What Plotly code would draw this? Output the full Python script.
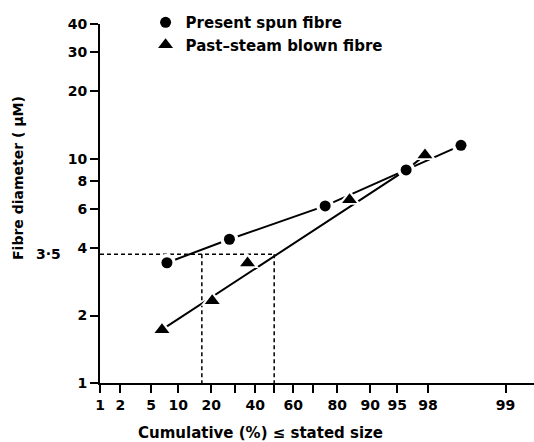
import math
from statistics import NormalDist
import plotly.graph_objects as go

# ---- data ----
present_pct = [7.6, 27.5, 75.2, 96.1, 99.37]
present_diam = [3.44, 4.38, 6.17, 8.93, 11.5]

blown_pct = [6.7, 20.4, 36.1, 84.3, 97.8]
blown_diam = [1.73, 2.33, 3.43, 6.58, 10.4]

blown_fit_pct = [6.7, 96.1, 97.8]
blown_fit_diam = [1.73, 8.93, 10.4]

ref_diam = 3.75          # drawn position of the "3·5" guide line
ref_label = "3·5"
ref_pct = [16.7, 50]

x_tick_pct = [1, 2, 5, 10, 20, 30, 40, 50, 60, 70, 80, 90, 95, 98, 99.9]
x_tick_text = ["1", "2", "5", "10", "20", "", "40", "", "60", "", "80", "90", "95", "98", "99"]
y_tick_vals = [1, 2, 4, 6, 8, 10, 20, 30, 40]
y_tick_text = ["1", "2", "4", "6", "8", "10", "20", "30", "40"]

nd = NormalDist()
def probit(p):
    return nd.inv_cdf(p / 100.0)

FONT = "DejaVu Sans"
W = "bold"
fig = go.Figure()

# guide dashed lines (inside plot)
fig.add_trace(go.Scatter(x=[probit(1), probit(ref_pct[1])], y=[ref_diam, ref_diam],
                         mode="lines", line=dict(color="black", width=1.5, dash="4px,3px"),
                         showlegend=False, hoverinfo="skip"))
for p in ref_pct:
    fig.add_trace(go.Scatter(x=[probit(p), probit(p)], y=[ref_diam, 1],
                             mode="lines", line=dict(color="black", width=1.5, dash="4px,3px"),
                             showlegend=False, hoverinfo="skip"))

# fitted lines
fig.add_trace(go.Scatter(x=[probit(p) for p in present_pct], y=present_diam, mode="lines",
                         line=dict(color="black", width=2), showlegend=False, hoverinfo="skip"))
fig.add_trace(go.Scatter(x=[probit(p) for p in blown_fit_pct], y=blown_fit_diam, mode="lines",
                         line=dict(color="black", width=2), showlegend=False, hoverinfo="skip"))

# white halos
fig.add_trace(go.Scatter(x=[probit(p) for p in present_pct], y=present_diam, mode="markers",
                         marker=dict(symbol="circle", size=18, color="white"),
                         showlegend=False, hoverinfo="skip"))
fig.add_trace(go.Scatter(x=[probit(p) for p in blown_pct], y=blown_diam, mode="markers",
                         marker=dict(symbol="triangle-up", size=20, color="white"),
                         showlegend=False, hoverinfo="skip"))

# markers
fig.add_trace(go.Scatter(x=[probit(p) for p in present_pct], y=present_diam, mode="markers",
                         marker=dict(symbol="circle", size=11, color="black"),
                         name="Present spun fibre"))
fig.add_trace(go.Scatter(x=[probit(p) for p in blown_pct], y=blown_diam, mode="markers",
                         marker=dict(symbol="triangle-up", size=13, color="black"),
                         name="Past\u2013steam blown fibre"))

# dotted lead-in to the 3·5 label, outside the plot
fig.add_shape(type="line", xref="paper", yref="y", x0=-0.083, x1=0,
              y0=math.log10(ref_diam), y1=math.log10(ref_diam),
              line=dict(color="black", width=1.5, dash="dot"))

fig.add_annotation(text=ref_label, xref="paper", yref="y", x=-0.085, y=math.log10(ref_diam),
                   xanchor="right", yanchor="middle", showarrow=False,
                   font=dict(family=FONT, size=14, color="black", weight=W))

fig.add_annotation(text="Cumulative (%) \u2264 stated size", xref="paper", yref="paper",
                   x=0.3687, y=-0.139, xanchor="center", yanchor="middle", showarrow=False,
                   font=dict(family=FONT, size=15, color="black", weight=W))
fig.add_annotation(text="Fibre diameter ( \u03bcM)", xref="paper", yref="paper",
                   x=-0.189, y=0.571, xanchor="center", yanchor="middle", showarrow=False,
                   textangle=-90, font=dict(family=FONT, size=14, color="black", weight=W))

fig.update_layout(
    width=534, height=442,
    margin=dict(l=100, r=0, t=24, b=59),
    paper_bgcolor="white", plot_bgcolor="white",
    font=dict(family=FONT, size=14, color="black", weight=W),
    legend=dict(x=0.105, y=1.05, xanchor="left", yanchor="top",
                font=dict(family=FONT, size=15, color="black", weight=W),
                bgcolor="rgba(0,0,0,0)", borderwidth=0),
    xaxis=dict(type="linear", range=[probit(1), 3.47],
               tickvals=[probit(p) for p in x_tick_pct], ticktext=x_tick_text,
               showgrid=False, zeroline=False, showline=True, linecolor="black", linewidth=2,
               ticks="outside", ticklen=8, tickwidth=2, tickcolor="black",
               tickfont=dict(family=FONT, size=14, color="black", weight=W)),
    yaxis=dict(type="log", range=[0, math.log10(40)],
               tickvals=y_tick_vals, ticktext=y_tick_text,
               showgrid=False, zeroline=False, showline=True, linecolor="black", linewidth=2,
               ticks="outside", ticklen=8, tickwidth=2, tickcolor="black",
               tickfont=dict(family=FONT, size=14, color="black", weight=W)),
)

fig.write_html("out.html", config={"displayModeBar": False},
               post_script="document.body.style.margin='0';document.body.style.overflow='hidden';")
